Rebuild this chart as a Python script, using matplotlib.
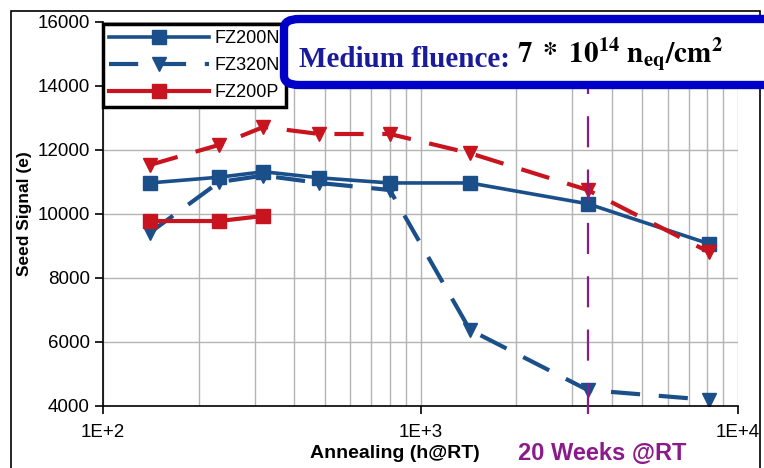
#!/usr/bin/env python3

import matplotlib
matplotlib.use("Agg")
import matplotlib.pyplot as plt
from matplotlib.patches import FancyBboxPatch, Rectangle
from matplotlib.text import Annotation
from matplotlib.ticker import FixedLocator, LogLocator, NullFormatter

# annealing time in hours at room temperature
hours = [140, 232, 320, 480, 800, 1430, 3360, 8100]

fz200n = [10970, 11150, 11320, 11130, 10970, 10970, 10320, 9070]
fz320n = [9410, 11000, 11200, 10970, 10750, 6380, 4500, 4190]
fz320p = [11530, 12160, 12720, 12500, 12500, 11900, 10750, 8810]
fz200p_hours = [140, 232, 320]
fz200p = [9780, 9780, 9940]

week20 = 3360

blue = "#1B4F8A"
red = "#C8141E"
purple = "#8B1A8B"


def main():
    plt.rcParams["font.family"] = ["Liberation Sans", "DejaVu Sans"]
    plt.rcParams["mathtext.fontset"] = "stix"

    fig = plt.figure(figsize=(7.64, 4.68), dpi=100)
    ax = fig.add_axes([0.135, 0.1325, 0.831, 0.8205])

    # outer frame of the slide
    fig.patches.append(Rectangle((11 / 764, -0.05), 749 / 764, 1.05 - 11 / 468,
                                 transform=fig.transFigure, fill=False,
                                 edgecolor="black", linewidth=1.2))

    ax.plot(hours, fz200n, color=blue, lw=2.6, marker="s", ms=10, label="FZ200N")
    ax.plot(hours, fz320n, color=blue, lw=3, ls=(0, (7, 4.5)), marker="v", ms=10,
            label="FZ320N")
    ax.plot(fz200p_hours, fz200p, color=red, lw=3, marker="s", ms=10, label="FZ200P")
    ax.plot(hours, fz320p, color=red, lw=3, ls=(0, (7, 4.5)), marker="v", ms=10,
            label="_FZ320P")

    ax.axvline(week20, ymin=-0.02, ymax=0.96, clip_on=False, color=purple,
               lw=1.6, ls=(0, (14, 10)), zorder=5)

    ax.set_xscale("log")
    ax.set_xlim(100, 10000)
    ax.set_ylim(4000, 16000)
    ax.yaxis.set_major_locator(FixedLocator(range(4000, 16001, 2000)))
    ax.xaxis.set_major_locator(FixedLocator([100, 1000, 10000]))
    ax.xaxis.set_minor_locator(LogLocator(base=10, subs=range(2, 10)))
    ax.xaxis.set_minor_formatter(NullFormatter())
    ax.set_xticklabels(["1E+2", "1E+3", "1E+4"])
    ax.grid(True, which="both", color="#b4b4b4", lw=1)
    ax.tick_params(which="minor", length=0)
    ax.tick_params(which="major", direction="out", length=6, width=1.2,
                   labelsize=13.5, colors="black")
    ax.tick_params(axis="x", pad=7)
    for side in ["top", "right"]:
        ax.spines[side].set_visible(False)
    for side in ["left", "bottom"]:
        ax.spines[side].set_linewidth(1.2)

    ax.set_ylabel("Seed Signal (e)", fontsize=12.5, fontweight="bold", labelpad=4)
    fig.text(0.517, 0.022, "Annealing (h@RT)", fontsize=14, fontweight="bold",
             ha="center")
    fig.text(0.678, 0.018, "20 Weeks @RT", fontsize=17, fontweight="bold",
             color=purple, ha="left")

    leg = ax.legend(loc="upper left", bbox_to_anchor=(0.0, 0.995), borderaxespad=0,
                    handlelength=5.5, fancybox=False, framealpha=1,
                    borderpad=0.35, labelspacing=0.55, handletextpad=0.3,
                    prop={"size": 13})
    leg.get_frame().set_edgecolor("black")
    leg.get_frame().set_linewidth(2.5)

    # fluence box (runs off the right edge)
    box = FancyBboxPatch((284 / 764, 1 - 85 / 468), 520 / 764, 66 / 468,
                         boxstyle="round,pad=0,rounding_size=0.02",
                         transform=fig.transFigure, facecolor="white",
                         edgecolor="#0000C8", linewidth=6, zorder=10,
                         clip_on=False)
    fig.patches.append(box)
    t1 = fig.text(299 / 764, 1 - 67 / 468, "Medium fluence: ", fontsize=21,
                  fontweight="bold", family=["Liberation Serif", "DejaVu Serif"],
                  color="#1A1A9C", zorder=11)
    t2 = Annotation(r"$\mathbf{7\ *\ 10^{14}\ n_{eq}/cm^{2}}$", xy=(1, 0),
                    xycoords=t1, xytext=(0, 0), textcoords="offset points",
                    fontsize=21, color="black", va="bottom", zorder=11,
                    annotation_clip=False)
    fig.add_artist(t2)

    fig.savefig("out.png", dpi=100)


if __name__ == "__main__":
    main()
